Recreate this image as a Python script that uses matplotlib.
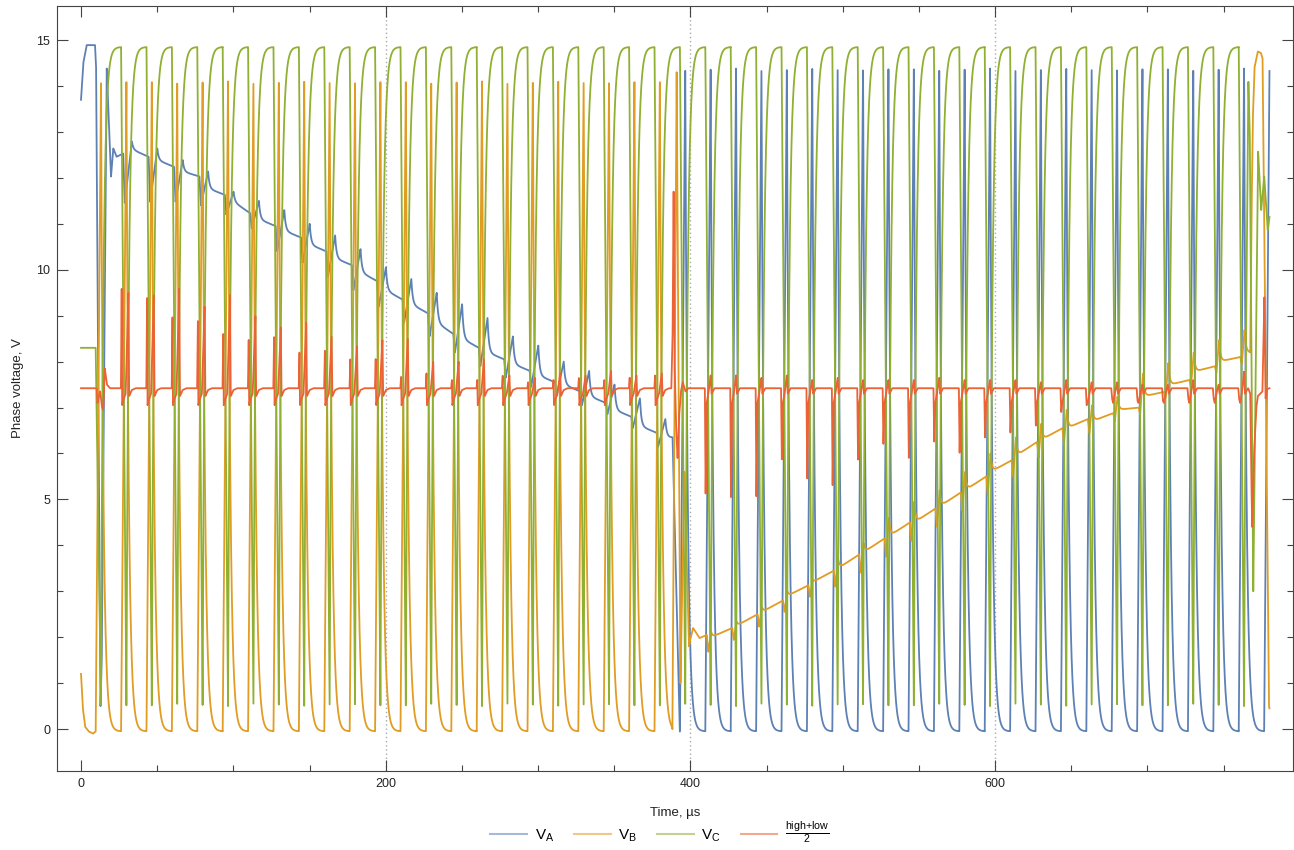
import numpy as np
import matplotlib
matplotlib.use("Agg")
import matplotlib.pyplot as plt
from matplotlib.lines import Line2D
from matplotlib.ticker import MultipleLocator

plt.rcParams['font.family'] = ['Liberation Sans', 'DejaVu Sans']

# PWM timing (us)
period = 16.674
first_event = 13.13
t_end = 780.15

# levels (V)
high_top = 14.85
high_dip = 0.5
peak_b = 14.1      # V_B spikes while it is the low phase
peak_a = 14.38     # V_A spikes while it is the low phase
low_base = -0.05
mid_level = 7.42

# V_A floating, periods 1..22: level before dip, dip, bump, settle after bump
a_level = [12.53, 12.46, 12.24, 12.03, 11.63, 11.23, 10.95, 10.7, 10.4, 10.1, 9.75,
           9.35, 9.05, 8.6, 8.3, 8.05, 7.8, 7.55, 7.35, 7.1, 6.8, 6.45]
a_dip = [11.45, 11.48, 11.48, 11.4, 11.2, 10.9, 10.4, 10.15, 9.85, 9.55, 9.2,
         8.85, 8.55, 8.2, 7.9, 7.65, 7.45, 7.25, 7.05, 6.85, 6.55, 6.15]
a_bump = [12.79, 12.64, 12.39, 12.14, 11.7, 11.5, 11.3, 11.0, 10.75, 10.45, 10.05,
          9.8, 9.5, 9.25, 8.95, 8.55, 8.35, 8.0, 7.8, 7.5, 7.2, 6.75]
a_settle = [12.62, 12.39, 12.14, 11.77, 11.48, 11.1, 10.85, 10.55, 10.25, 9.95, 9.55,
            9.25, 8.85, 8.5, 8.2, 7.95, 7.7, 7.5, 7.25, 6.95, 6.6, 6.35]

# V_B floating, periods 24..45
b_level = [2.05, 2.2, 2.5, 2.8, 3.13, 3.45, 3.8, 4.15, 4.5, 4.8, 5.15,
           5.5, 5.85, 6.25, 6.55, 6.75, 6.88, 7.0, 7.34, 7.6, 7.9, 8.1]
b_dip = [1.68, 1.94, 2.23, 2.55, 2.88, 3.1, 3.4, 3.75, 4.1, 4.4, 4.75,
         5.1, 5.5, 5.9, 6.2, 6.45, 6.7, 6.85, 7.2, 7.45, 7.75, 7.95]
b_bump = [2.12, 2.34, 2.66, 3.0, 3.25, 3.7, 4.05, 4.6, 4.95, 5.2, 5.6,
          6.0, 6.35, 6.65, 6.95, 7.05, 7.24, 7.74, 7.97, 8.2, 8.47, 8.69]
b_settle = [2.0, 2.25, 2.55, 2.9, 3.2, 3.5, 3.85, 4.2, 4.5, 4.85, 5.2,
            5.6, 5.95, 6.3, 6.55, 6.7, 6.95, 7.24, 7.49, 7.78, 8.0, 8.2]

# (high+low)/2: spike pairs in periods 1..22, dips and small spikes in 24..45
mid_up1 = [9.6, 9.4, 9.0, 8.9, 8.6, 8.5, 8.55, 8.2, 8.25, 8.06, 8.06,
           7.67, 7.75, 7.6, 7.6, 7.7, 7.55, 7.6, 7.65, 7.6, 7.65, 7.7]
mid_up2 = [9.5, 9.45, 9.6, 9.2, 9.45, 9.0, 8.75, 8.85, 8.55, 8.34, 8.47,
           8.5, 8.0, 8.0, 8.05, 7.7, 7.65, 7.75, 7.7, 7.8, 7.7, 7.75]
mid_down = [5.1, 5.05, 5.05, 5.85, 5.45, 5.3, 5.85, 6.2, 5.9, 6.25, 6.0,
            6.35, 6.45, 6.6, 6.9, 7.05, 7.2, 7.15, 7.15, 7.2, 7.2, 7.2]
mid_up3 = [7.7, 7.7, 7.65, 7.7, 7.6, 7.65, 7.6, 7.6, 7.6, 7.65, 7.6,
           7.6, 7.6, 7.55, 7.6, 7.55, 7.55, 7.5, 7.5, 7.6, 7.5, 7.78]

# hand-read pieces: start, first commutation (~390 us), end (~767 us)
a_start_t = [0, 1.5, 3.7, 9.2, 9.9, 12.8, 13.6, 16.9, 19.7, 21.2, 23.4, 27.7]
a_start_v = [13.7, 14.5, 14.89, 14.89, 14.4, 0.5, 1.5, 14.38, 12.03, 12.64, 12.46, 12.53]
a_comm_t = [388.3, 392.6, 393.1]
a_comm_v = [6.35, 0.5, -0.05]

b_start_t = [0, 1.2, 2.7, 5.0, 7.9, 9.63]
b_start_v = [1.2, 0.45, 0.05, -0.05, -0.1, -0.05]
b_comm_t = [388.2, 391.0, 393.5, 396.1, 399.1, 399.8, 401.8, 406.0, 410.8]
b_comm_v = [0.0, 14.3, 1.0, 5.6, 1.8, 1.93, 2.2, 1.98, 2.05]
b_end_t = [767.5, 768.3, 769.2, 770.3, 772.5, 774.5, 775.6, 779.8, 780.15]
b_end_v = [8.2, 11.0, 13.26, 14.4, 14.75, 14.72, 14.6, 0.5, 0.45]

c_start = 8.3
c_end_t = [764.9, 766.3, 767.2, 769.5, 772.7, 774.7, 776.7, 779.0, 780.15]
c_end_v = [9.0, 14.09, 13.0, 3.0, 12.57, 11.3, 12.03, 10.86, 11.15]

m_start_t = [10.3, 10.8, 12.5, 13.8, 14.6, 15.6, 17.0, 19.0]
m_start_v = [7.42, 7.1, 7.35, 7.0, 6.95, 7.85, 7.5, 7.42]
m_comm_t = [387.5, 388.3, 389.0, 389.6, 390.6, 391.6, 392.6, 393.8, 395.0, 396.8, 398.5]
m_comm_v = [7.42, 8.5, 11.7, 8.0, 6.6, 5.9, 6.8, 7.35, 7.55, 7.35, 7.42]
m_end_t = [766.2, 767.5, 768.2, 768.8, 770.0, 771.5, 772.5, 775.5, 776.8, 777.6, 778.6, 780.15]
m_end_v = [7.42, 7.3, 5.5, 4.4, 6.0, 7.0, 7.25, 7.35, 9.4, 7.2, 7.4, 7.42]

t = np.arange(0, t_end, 0.02)


def ev(k):
    return first_event + k * period


def put(y, tp, vp):
    m = (t >= tp[0]) & (t <= tp[-1])
    y[m] = np.interp(t[m], tp, vp)


def high_phase(y, ks, top, dip, pre=None, fall=3.5, tau=1.6):
    for k in ks:
        tk = ev(k)
        m = (t >= tk - fall) & (t < tk - fall + period)
        u = t[m] - tk
        start = pre if (pre is not None and k == ks[0]) else top
        y[m] = np.where(u < 0, start + (dip - start) * (u + fall) / fall,
                        top - (top - dip) * np.exp(-u / tau))


def low_phase(y, ks, peak, base, rise=3.5, tau=1.6):
    for k in ks:
        tk = ev(k)
        m = (t >= tk - rise) & (t < tk - rise + period)
        u = t[m] - tk
        y[m] = np.where(u < 0, base + (peak - base) * (u + rise) / rise,
                        base + (peak - base) * np.exp(-u / tau))


def floating(y, ks, lev, dip, bump, settle, lev_end, ud, ub, stop=None):
    us = ud - 1.0
    for i, k in enumerate(ks):
        tk = ev(k)
        m = (t >= tk + us) & (t < tk + us + period)
        if stop is not None:
            m &= t < stop
        u = t[m] - tk
        nxt = lev[i + 1] if i + 1 < len(lev) else lev_end
        early = np.interp(u, [us, ud, ub], [lev[i], dip[i], bump[i]])
        late = (settle[i] + (nxt - settle[i]) * (u - ub) / (us + period - ub)
                + (bump[i] - settle[i]) * np.exp(-(u - ub) / 0.9))
        y[m] = np.where(u < ub, early, late)


def mid_events(y, ks, offs, vals):
    for i, k in enumerate(ks):
        tk = ev(k)
        put(y, [tk + o for o in offs], [v[i] if isinstance(v, list) else v for v in vals])


seg1 = list(range(1, 23))
seg2 = list(range(24, 46))

# V_A
va = np.full_like(t, np.nan)
put(va, a_start_t, a_start_v)
floating(va, seg1, a_level, a_dip, a_bump, a_settle, 6.35, -1.1, 3.6, stop=388.3)
low_phase(va, list(range(23, 47)), peak_a, low_base)
put(va, a_comm_t, a_comm_v)

# V_B
vb = np.full_like(t, np.nan)
put(vb, b_start_t, b_start_v)
low_phase(vb, list(range(0, 23)), peak_b, low_base)
put(vb, b_comm_t, b_comm_v)
floating(vb, seg2, b_level, b_dip, b_bump, b_settle, 8.2, -1.5, 0.3)
put(vb, b_end_t, b_end_v)

# V_C
vc = np.full_like(t, c_start)
high_phase(vc, list(range(0, 46)), high_top, high_dip, pre=c_start)
put(vc, c_end_t, c_end_v)

# (high+low)/2
vm = np.full_like(t, mid_level)
put(vm, m_start_t, m_start_v)
mid_events(vm, seg1, [-3.6, -3.1, -2.8, -2.2, -0.5, 1.3, 1.8, 3.5, 6.0],
           [mid_level, mid_up1, 7.05, 7.15, 7.3, mid_up2, 7.25, 7.38, mid_level])
put(vm, m_comm_t, m_comm_v)
mid_events(vm, seg2, [-3.8, -3.3, -2.6, -1.5, 0.0, 0.6, 2.5],
           [mid_level, mid_down, 7.1, 7.3, mid_up3, 7.3, mid_level])
put(vm, m_end_t, m_end_v)

colors = ['#5E81B5', '#E19C24', '#8FB032', '#EB6235']

fig = plt.figure(figsize=(12.94, 8.5), dpi=100)
ax = fig.add_axes([0.04405, 0.0929, 0.9552, 0.9])

for x in [200, 400, 600]:
    ax.axvline(x, color='#aaaaaa', lw=1.0, ls=(0, (1, 2)), zorder=0.5)

for y, c in zip([va, vb, vc, vm], colors):
    ax.plot(t, y, color=c, lw=1.3)

ax.set_xlim(-15.76, 795.6)
ax.set_ylim(-0.914, 15.741)
ax.set_xticks([0, 200, 400, 600])
ax.set_yticks([0, 5, 10, 15])
ax.xaxis.set_minor_locator(MultipleLocator(50))
ax.yaxis.set_minor_locator(MultipleLocator(1))
ax.tick_params(which='both', direction='in', top=True, right=True,
               color='#444444', width=0.8, labelsize=9, labelcolor='#222222')
ax.tick_params(which='major', length=8, pad=5)
ax.tick_params(which='minor', length=4.5)
for s in ax.spines.values():
    s.set_color('#444444')
    s.set_linewidth(0.8)

ax.set_xlabel('Time, µs', fontsize=9.5, color='#222222', labelpad=12)
ax.set_ylabel('Phase voltage, V', fontsize=9.5, color='#222222', labelpad=9)

handles = [Line2D([], [], color=c, lw=1.5, alpha=0.55) for c in colors]
labels = [r'$\mathregular{V_A}$', r'$\mathregular{V_B}$', r'$\mathregular{V_C}$',
          r'$\frac{\mathregular{high{+}low}}{\mathregular{2}}$']
fig.legend(handles, labels, loc='lower center', bbox_to_anchor=(0.51, -0.012),
           ncol=4, frameon=False, fontsize=11, handlelength=2.4,
           handletextpad=0.5, columnspacing=1.3)

fig.savefig('out.png', dpi=100)
